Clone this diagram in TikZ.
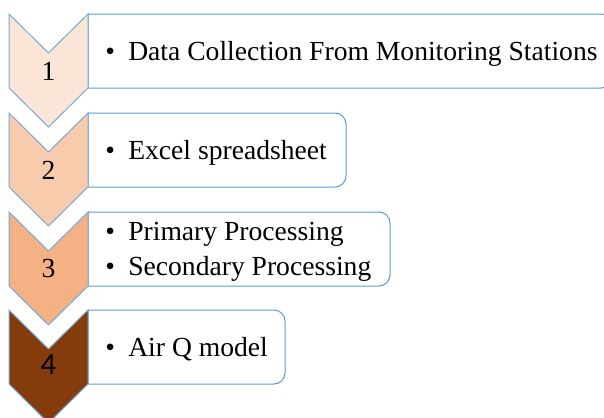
\documentclass[tikz,border=0pt]{standalone}
\usepackage{fontspec}
\setmainfont{Liberation Serif}
\newfontfamily\numfont{Carlito}
\usepackage{tikz}
\usetikzlibrary{calc}
\definecolor{edgeblue}{RGB}{91,155,213}
\definecolor{stepone}{RGB}{251,229,214}
\definecolor{steptwo}{RGB}{248,203,173}
\definecolor{stepthree}{RGB}{244,177,131}
\definecolor{stepfour}{RGB}{132,60,12}
\tikzset{
  chevron/.style={draw=edgeblue!85,line width=0.75pt,line join=miter},
  listbox/.style={draw=edgeblue,fill=white,line width=0.75pt},
  stepnum/.style={font=\fontsize{20.7}{25}\selectfont,inner sep=0pt},
  steptext/.style={font=\fontsize{20.7}{26.25}\selectfont,inner sep=0pt,align=left,anchor=base west},
}
\newcommand{\bitem}[1]{\makebox[17.3pt][l]{\textbullet}#1}

\begin{document}
\begin{tikzpicture}[x=0.75pt,y=-0.75pt]
\useasboundingbox (0,0) rectangle (604,418);

% text boxes, square on the left, rounded on the right
\draw[listbox] (88,14) -- (601,14) arc(-90:0:11) -- (612,77) arc(0:90:11) -- (88,88) -- cycle;
\draw[listbox] (88,113) -- (335,113) arc(-90:0:11) -- (346,176) arc(0:90:11) -- (88,187) -- cycle;
\draw[listbox] (88,212) -- (379,212) arc(-90:0:11) -- (390,275) arc(0:90:11) -- (88,286) -- cycle;
\draw[listbox] (88,310) -- (274,310) arc(-90:0:11) -- (285,373) arc(0:90:11) -- (88,384) -- cycle;

% chevrons
\draw[chevron,fill=stepone] (9,14) -- (48.5,53) -- (88,14) -- (88,88) -- (48.5,127) -- (9,88) -- cycle;
\draw[chevron,fill=steptwo] (9,113) -- (48.5,152) -- (88,113) -- (88,187) -- (48.5,226) -- (9,187) -- cycle;
\draw[chevron,fill=stepthree] (9,212) -- (48.5,251) -- (88,212) -- (88,286) -- (48.5,325) -- (9,286) -- cycle;
\draw[chevron,fill=stepfour] (9,310) -- (48.5,349) -- (88,310) -- (88,384) -- (48.5,423) -- (9,384) -- cycle;

\node[stepnum] (n1) at (48.5,71) {1};
\node[stepnum] (n2) at (48.5,170) {2};
\node[stepnum] (n3) at (48.5,268) {3};
\node[stepnum,font=\numfont\fontsize{23}{28}\selectfont] (n4) at (48.5,365) {4};

\node[steptext] (t1) at (105,60) {\bitem{Data Collection From Monitoring Stations}};
\node[steptext] (t2) at (105,159) {\bitem{Excel spreadsheet}};
\node[steptext,anchor=west] (t3) at (105,252) {\bitem{Primary Processing}\\\bitem{Secondary Processing}};
\node[steptext] (t4) at (105,356) {\bitem{Air Q model}};
\end{tikzpicture}
\end{document}
